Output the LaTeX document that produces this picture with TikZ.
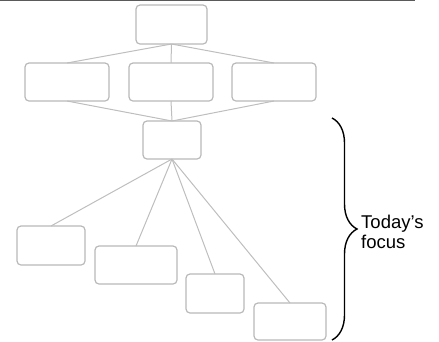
\documentclass[tikz,border=0pt]{standalone}
\usepackage{fontspec}
\setmainfont{Liberation Sans}
\usetikzlibrary{decorations.pathreplacing}
\definecolor{boxgray}{RGB}{185,185,185}
\definecolor{linkgray}{RGB}{190,190,190}
\definecolor{rulegray}{RGB}{90,90,90}
\tikzset{
  blk/.style={draw=boxgray, rounded corners=4pt, line width=1.2pt, inner sep=0pt, outer sep=0pt},
  link/.style={draw=linkgray, line width=1pt},
}
\begin{document}
\begin{tikzpicture}[x=1pt,y=-1pt]
\useasboundingbox (0,0) rectangle (439,341);
\draw[rulegray, line width=1.5pt] (0,0.7) -- (415,0.7);
% upper part
\node[blk, minimum width=71pt, minimum height=39pt] (top) at (171.5,24.5) {};
\node[blk, minimum width=84pt, minimum height=38pt] (midA) at (67,82) {};
\node[blk, minimum width=84pt, minimum height=38pt] (midB) at (171,82) {};
\node[blk, minimum width=84pt, minimum height=38pt] (midC) at (274,82) {};
\node[blk, minimum width=58pt, minimum height=38pt] (hub) at (172,140) {};
% lower part
\node[blk, minimum width=68pt, minimum height=39pt] (lowA) at (51,245.5) {};
\node[blk, minimum width=82pt, minimum height=38pt] (lowB) at (136,265) {};
\node[blk, minimum width=58pt, minimum height=39pt] (lowC) at (215,293.5) {};
\node[blk, minimum width=72pt, minimum height=37pt] (lowD) at (290,321.5) {};
\foreach \m in {midA,midB,midC} {
  \draw[link] (top.south) -- (\m.north);
  \draw[link] (\m.south) -- (hub.north);
}
\foreach \l in {lowA,lowB,lowC,lowD} \draw[link] (hub.south) -- (\l.north);
% brace and label
\draw[line width=1.4pt, decorate, decoration={brace, amplitude=25pt}] (332,118) -- (332,340);
\node[anchor=base west, align=left, inner sep=0pt, font=\fontsize{18.5}{20}\selectfont] (focus) at (361,248) {Today’s\\focus};
\end{tikzpicture}
\end{document}
